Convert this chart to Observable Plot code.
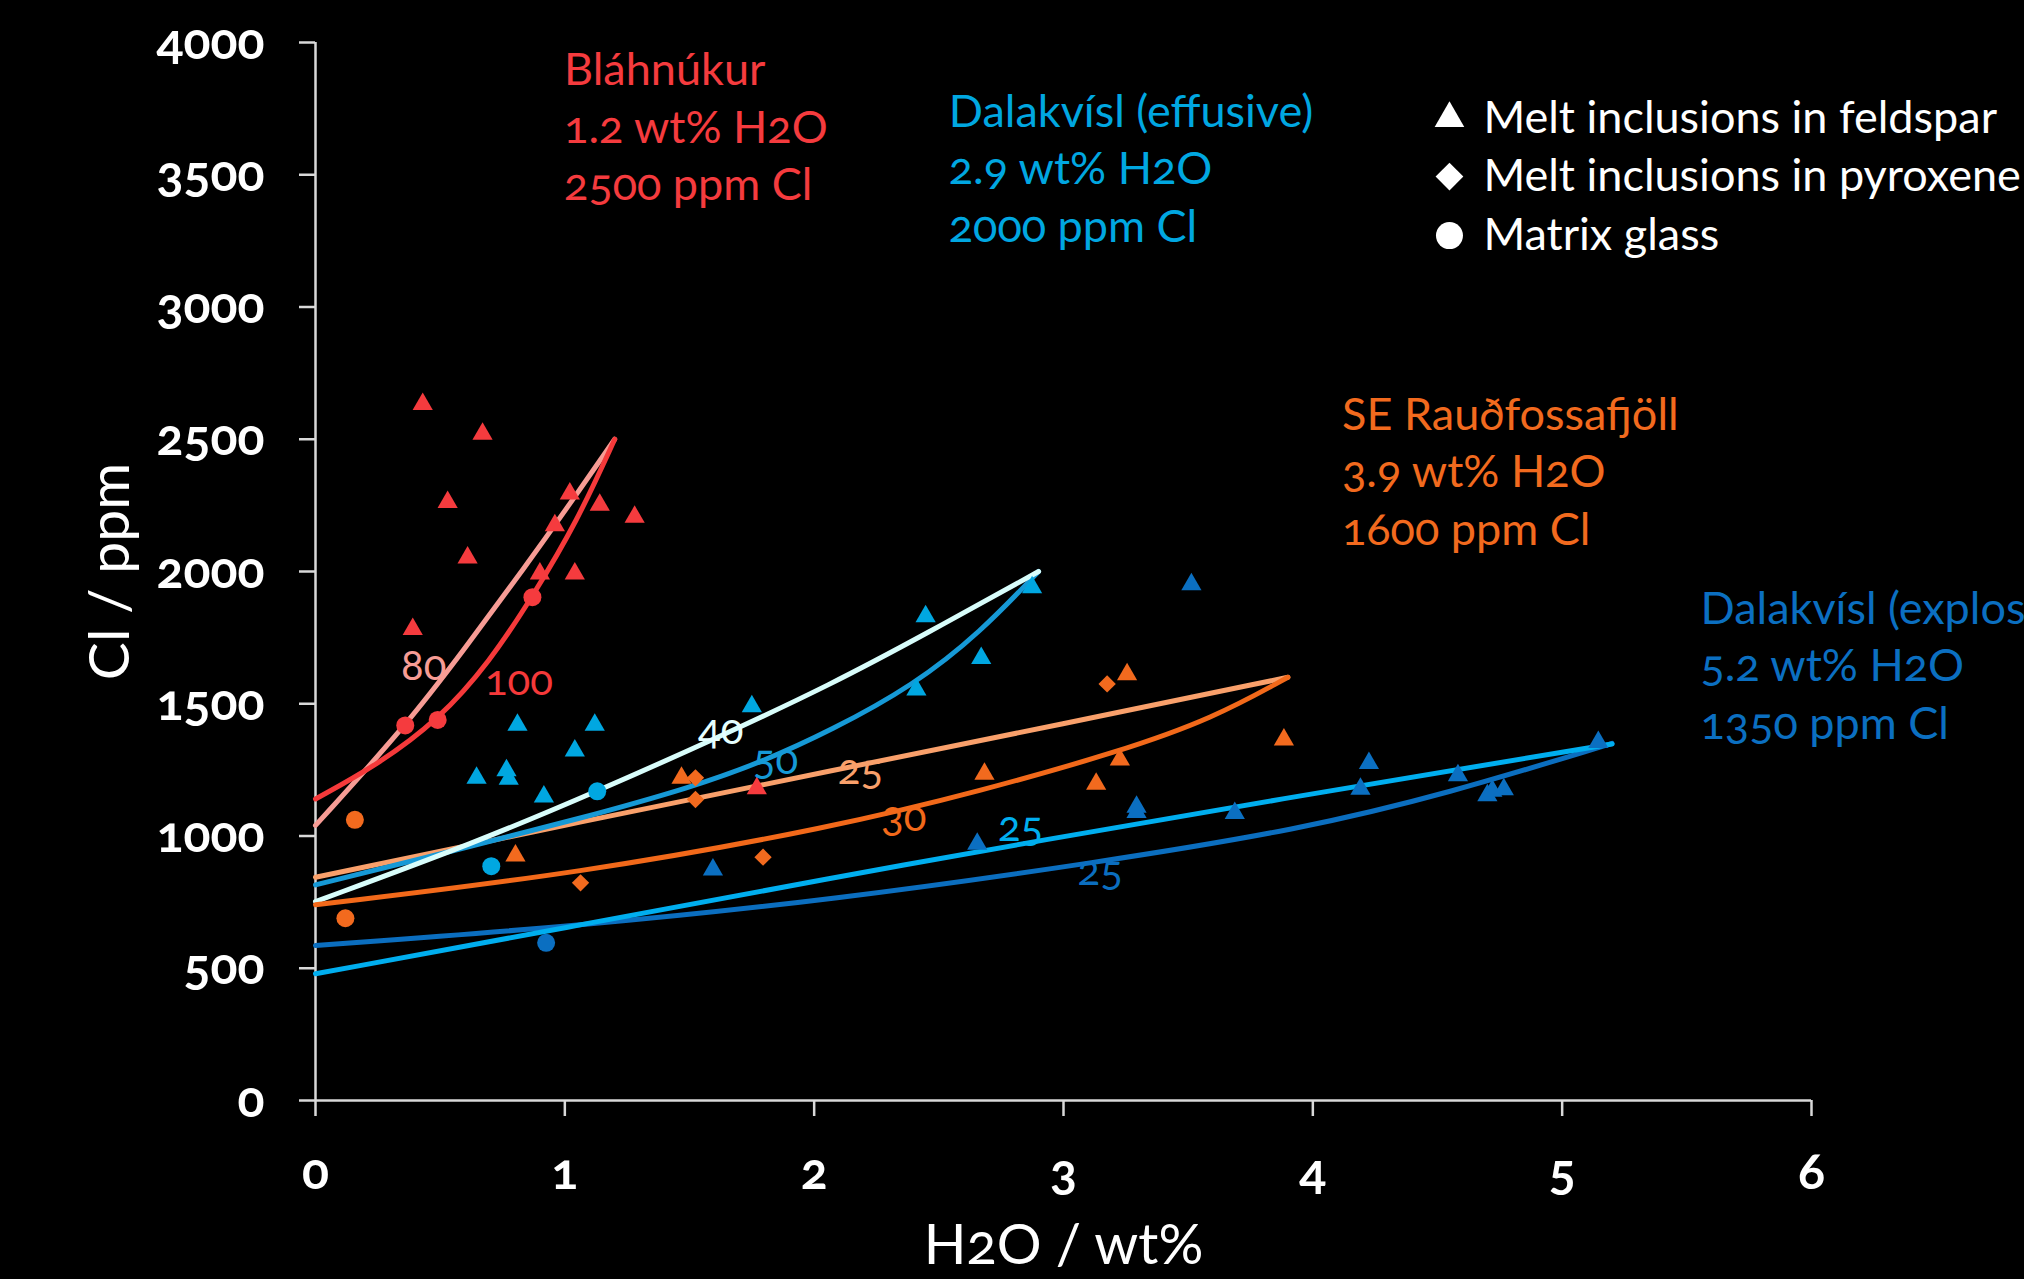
<!DOCTYPE html>
<html>
<head>
<meta charset="utf-8">
<script src="https://cdn.jsdelivr.net/npm/d3@7"></script>
<script src="https://cdn.jsdelivr.net/npm/@observablehq/plot@0.6"></script>
<style>
  html, body { margin: 0; padding: 0; background: #000; }
  #chart { width: 2024px; height: 1279px; overflow: hidden; }
  #chart svg { font-variant-numeric: oldstyle-nums; font-feature-settings: "onum" 1; }
</style>
</head>
<body>
<div id="chart"></div>
<script>
// ---------- Axis ticks ----------
const xTicks = [0, 1, 2, 3, 4, 5, 6];
const yTicks = [0, 500, 1000, 1500, 2000, 2500, 3000, 3500, 4000];

// ---------- Bláhnúkur ----------
const blaFeldsparH2O = [0.43, 0.67, 0.53, 0.61, 0.39, 1.02, 1.14, 1.28, 0.96, 0.90, 1.04, 1.77];
const blaFeldsparCl  = [2633, 2520, 2262, 2052, 1782, 2294, 2252, 2206, 2174, 1992, 1992, 1180];
const blaGlassH2O = [0.87, 0.36, 0.49];
const blaGlassCl  = [1903, 1418, 1439];
const bla100H2O = [0, 0.25, 0.495, 0.7, 0.869, 1.05, 1.2];
const bla100Cl  = [1140, 1270, 1440, 1660, 1903, 2190, 2500];
const bla80H2O = [0, 0.364, 0.6, 0.85, 1.0, 1.2];
const bla80Cl  = [1040, 1418, 1710, 2030, 2228, 2500];

// ---------- Dalakvísl (effusive) ----------
const effFeldsparH2O = [0.81, 1.12, 1.04, 0.646, 0.766, 0.775, 0.916, 1.75, 2.447, 2.41, 2.67, 2.874];
const effFeldsparCl  = [1420, 1420, 1323, 1220, 1248, 1216, 1149, 1490, 1830, 1553, 1672, 1940];
const effGlassH2O = [1.13, 0.705];
const effGlassCl  = [1169, 886];
const eff40H2O = [0, 0.642, 1.13, 1.62, 2.066, 2.45, 2.9];
const eff40Cl  = [752, 975, 1169, 1375, 1572, 1765, 2000];
const eff50H2O = [0, 0.535, 1.07, 1.511, 1.791, 2.066, 2.4, 2.667, 2.9];
const eff50Cl  = [815, 940, 1068, 1185, 1280, 1398, 1570, 1770, 2000];

// ---------- SE Rauðfossafjöll ----------
const rauFeldsparH2O = [1.468, 0.802, 2.683, 3.255, 3.884, 3.226, 3.131];
const rauFeldsparCl  = [1220, 926, 1235, 1611, 1364, 1289, 1197];
const rauPyroxeneH2O = [1.524, 1.524, 1.063, 1.795, 3.175];
const rauPyroxeneCl  = [1220, 1138, 823, 920, 1575];
const rauGlassH2O = [0.158, 0.12];
const rauGlassCl  = [1061, 689];
const rau25H2O = [0, 1.07, 2.086, 3.0, 3.9];
const rau25Cl  = [844, 1055, 1250, 1424, 1600];
const rau30H2O = [0, 1.07, 2.086, 2.667, 3.228, 3.6, 3.9];
const rau30Cl  = [740, 860, 1035, 1170, 1320, 1445, 1600];

// ---------- Dalakvísl (explosive) ----------
const expFeldsparH2O = [3.513, 4.225, 4.582, 4.191, 4.70, 4.72, 4.766, 5.145, 3.687, 3.293, 3.293, 2.654, 1.594];
const expFeldsparCl  = [1951, 1275, 1229, 1178, 1153, 1170, 1176, 1355, 1086, 1110, 1090, 970, 873];
const expGlassH2O = [0.925];
const expGlassCl  = [596];
const expAH2O = [0, 1.07, 2.086, 2.867, 4.071, 5.2];
const expACl  = [479, 665, 844, 977, 1172, 1348];
const expBH2O = [0, 1.07, 2.086, 3.14, 3.95, 4.539, 5.2];
const expBCl  = [586, 660, 760, 900, 1025, 1160, 1350];

// ---------- Text ----------
const groupNames = ["Bláhnúkur", "Dalakvísl (effusive)", "SE Rauðfossafjöll", "Dalakvísl (explosive)"];
const groupWater = ["1.2 wt% H2O", "2.9 wt% H2O", "3.9 wt% H2O", "5.2 wt% H2O"];
const groupChlorine = ["2500 ppm Cl", "2000 ppm Cl", "1600 ppm Cl", "1350 ppm Cl"];
const curveLabels = ["80", "100", "40", "50", "25", "30", "25", "25"];
const legendLabels = ["Melt inclusions in feldspar", "Melt inclusions in pyroxene", "Matrix glass"];

// ---------- Styles ----------
const groupColor = ["#f53b3e", "#00a7e1", "#f26a1e", "#0b6fc1"];
const FONT = "Lato, 'Open Sans', sans-serif";

const zip = (xs, ys) => xs.map((x, i) => ({h2o: x, cl: ys[i]}));
const pts = (g, xs, ys) => zip(xs, ys).map(d => ({...d, g}));

const triangles = [
  ...pts(0, blaFeldsparH2O, blaFeldsparCl),
  ...pts(1, effFeldsparH2O, effFeldsparCl),
  ...pts(2, rauFeldsparH2O, rauFeldsparCl),
  ...pts(3, expFeldsparH2O, expFeldsparCl)
];
const diamonds = [...pts(2, rauPyroxeneH2O, rauPyroxeneCl)];
const circles = [
  ...pts(0, blaGlassH2O, blaGlassCl),
  ...pts(1, effGlassH2O, effGlassCl),
  ...pts(2, rauGlassH2O, rauGlassCl),
  ...pts(3, expGlassH2O, expGlassCl)
];

const curves = [
  {data: zip(bla80H2O, bla80Cl), color: "#f79c95"},
  {data: zip(bla100H2O, bla100Cl), color: "#f5393a"},
  {data: zip(rau25H2O, rau25Cl), color: "#f9a06b"},
  {data: zip(eff50H2O, eff50Cl), color: "#1699d6"},
  {data: zip(eff40H2O, eff40Cl), color: "#d8fdfb"},
  {data: zip(rau30H2O, rau30Cl), color: "#f2691a"},
  {data: zip(expBH2O, expBCl), color: "#0b6ebf"},
  {data: zip(expAH2O, expACl), color: "#00aeef"}
];

// curve label anchors (data units) and colours
const curveLabelMarks = [
  {x: 0.434, y: 1640, color: "#f79c95"},
  {x: 0.816, y: 1585, color: "#f5393a"},
  {x: 1.625, y: 1400, color: "#e6ffff"},
  {x: 1.845, y: 1285, color: "#1699d6"},
  {x: 2.186, y: 1248, color: "#f9a06b"},
  {x: 2.359, y: 1071, color: "#f2691a"},
  {x: 2.828, y: 1033, color: "#00aeef"},
  {x: 3.147, y: 866,  color: "#0b6ebf"}
].map((d, i) => ({...d, text: curveLabels[i]}));

const annot = [
  {x: 0.997, y: 3690, g: 0},
  {x: 2.54,  y: 3534, g: 1},
  {x: 4.117, y: 2388, g: 2},
  {x: 5.555, y: 1655, g: 3}
].map(d => ({...d, text: [groupNames[d.g], groupWater[d.g], groupChlorine[d.g]].join("\n")}));

const legendRows = [
  {y: 3713, symbol: "triangle", r: 11},
  {y: 3493, symbol: "diamond2", r: 12.5},
  {y: 3270, symbol: "circle", r: 13.5}
].map((d, i) => ({...d, text: legendLabels[i]}));

const chart = Plot.plot({
  width: 2024,
  height: 1279,
  marginLeft: 315,
  marginRight: 213,
  marginTop: 42,
  marginBottom: 179,
  style: {background: "#000", color: "#fff", fontFamily: FONT, overflow: "visible"},
  x: {domain: [0, 6]},
  y: {domain: [0, 4000]},
  symbol: {type: "identity"},
  r: {type: "identity"},
  marks: [
    Plot.axisX({ticks: xTicks, tickSize: 16, tickPadding: 37, fontSize: 50, fontWeight: "bold",
      fill: "#fff", stroke: "#d9d9d9", strokeWidth: 2.5, label: null, tickFormat: d => String(d)}),
    Plot.axisY({ticks: yTicks, tickSize: 16, tickPadding: 35, fontSize: 50, fontWeight: "bold",
      fill: "#fff", stroke: "#d9d9d9", strokeWidth: 2.5, label: null, tickFormat: d => String(d)}),
    Plot.ruleY([0], {stroke: "#d9d9d9", strokeWidth: 2.5}),
    Plot.ruleX([0], {stroke: "#d9d9d9", strokeWidth: 2.5}),
    ...curves.map(c => Plot.line(c.data, {x: "h2o", y: "cl", stroke: c.color, strokeWidth: 5,
      curve: "basis", strokeLinecap: "round"})),
    Plot.dot(triangles, {x: "h2o", y: "cl", symbol: "triangle", r: 7.5, fill: d => groupColor[d.g], stroke: "none"}),
    Plot.dot(diamonds, {x: "h2o", y: "cl", symbol: "diamond2", r: 7.8, fill: d => groupColor[d.g], stroke: "none"}),
    Plot.dot(circles, {x: "h2o", y: "cl", symbol: "circle", r: 9, fill: d => groupColor[d.g], stroke: "none"}),
    Plot.text(curveLabelMarks, {x: "x", y: "y", text: "text", fill: d => d.color, fontSize: 42, fontFamily: FONT}),
    Plot.text(annot, {x: "x", y: "y", text: "text", fill: d => groupColor[d.g], fontSize: 45,
      lineHeight: 1.278, textAnchor: "start", lineAnchor: "middle", fontFamily: FONT}),
    Plot.dot(legendRows, {x: 4.548, y: "y", symbol: "symbol", r: "r", fill: "#fff", stroke: "none"}),
    Plot.text(legendRows, {x: 4.684, y: "y", text: "text", fill: "#fff", fontSize: 45, textAnchor: "start",
      lineAnchor: "middle", fontFamily: FONT}),
    Plot.text(["Cl / ppm"], {frameAnchor: "left", dx: -205, rotate: -90, fill: "#fff", fontSize: 57,
      textAnchor: "middle", lineAnchor: "middle", fontFamily: FONT}),
    Plot.text(["H2O / wt%"], {frameAnchor: "bottom", dy: 146, fill: "#fff", fontSize: 56,
      textAnchor: "middle", lineAnchor: "middle", fontFamily: FONT})
  ]
});
document.getElementById("chart").appendChild(chart);
</script>
</body>
</html>
